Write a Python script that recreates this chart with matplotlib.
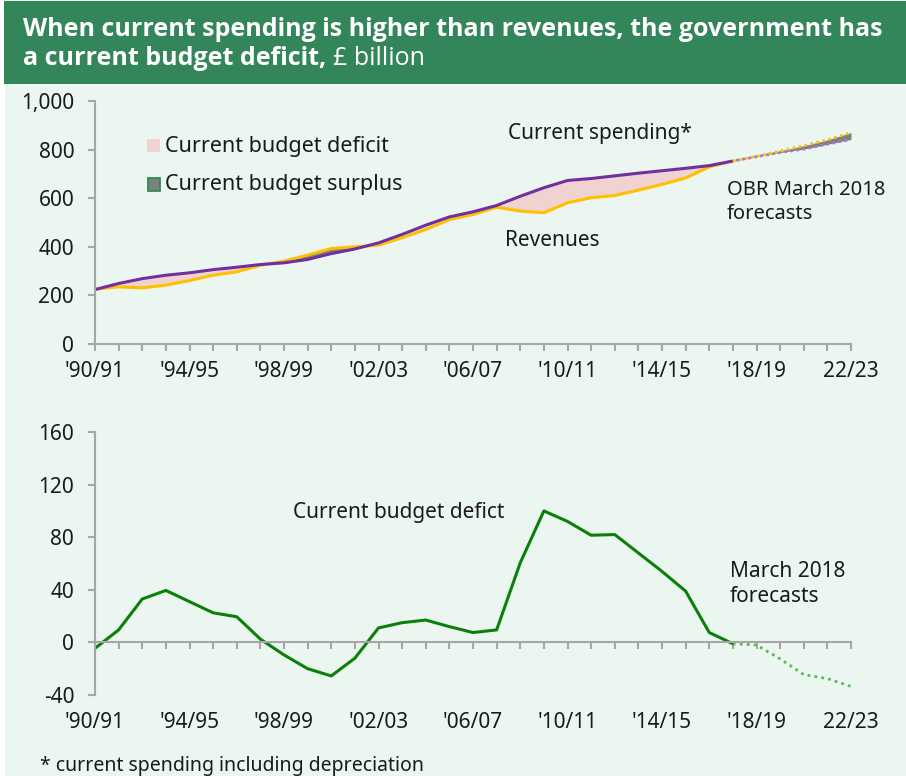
import matplotlib

matplotlib.use("Agg")
import matplotlib.pyplot as plt  # noqa: E402
import numpy as np  # noqa: E402
from matplotlib.patches import Rectangle  # noqa: E402

plt.rcParams["font.family"] = ["Noto Sans", "DejaVu Sans"]
plt.rcParams["axes.unicode_minus"] = False

# Financial years, plotted by their starting year (1990 = 1990/91)
years_hist = np.arange(1990, 2018)
years_fc = np.arange(2017, 2023)

# Current spending (incl. depreciation) and receipts, £ billion
spending_hist = [224, 249, 269, 283, 293, 306, 316, 327, 334, 348, 372, 391, 416, 451,
                 489, 523, 544, 570, 608, 643, 673, 681, 692, 703, 713, 723, 734, 753]
revenue_hist = [226, 235, 231, 242, 261, 283, 297, 324, 341, 366, 393, 400, 407, 437,
                471, 512, 533, 563, 547, 540, 581, 602, 611, 633, 657, 683, 729, 753]
spending_fc = [753, 771, 788, 802, 822, 842]
revenue_fc = [753, 772, 794, 816, 840, 870]

# Current budget deficit, £ billion
deficit_hist = [-4.5, 9.5, 33, 39.5, 31, 22.5, 19.5, 2.5, -9.5, -20, -25.5, -12, 11, 15,
                17, 12, 7.5, 9.5, 60.5, 100, 92, 81.5, 82, 68, 54, 39, 7.5, -1]
deficit_fc = [-1, -2, -12.5, -24.5, -27.5, -33.5]

label_years = np.arange(1990, 2023, 4)
year_labels = ["'90/91", "'94/95", "'98/99", "'02/03", "'06/07", "'10/11", "'14/15",
               "'18/19", "22/23"]

GREEN_BAR = "#33855a"
BG = "#ecf6f0"
AXIS = "#a6a6a6"
TEXT = "#1a1a1a"
PURPLE = "#7030a0"
YELLOW = "#ffc000"
PINK = "#f0d2d0"
GREY = "#7f7f7f"
LINE_GREEN = "#0a800a"
FC_GREEN = "#5cb85c"
TITLE_FONT = ["Open Sans", "DejaVu Sans"]

W, H = 906, 776
fig = plt.figure(figsize=(W / 100, H / 100), dpi=100, facecolor="white")


def fx(px):
    return px / W


def fy(py):
    return 1 - py / H


# panel background and title bar
fig.patches.append(Rectangle((fx(5), 0), 1, fy(84), transform=fig.transFigure,
                             facecolor=BG, edgecolor="none", zorder=-2))
fig.patches.append(Rectangle((fx(4), fy(84)), 1, fy(1) - fy(84), transform=fig.transFigure,
                             facecolor=GREEN_BAR, edgecolor="none", zorder=-1))

fig.text(fx(23), fy(36), "When current spending is higher than revenues, the government has",
         color="white", fontsize=18, fontweight="bold", family=TITLE_FONT, va="baseline")
t2 = fig.text(fx(23), fy(65), "a current budget deficit,", color="white", fontsize=18,
              fontweight="bold", family=TITLE_FONT, va="baseline")
fig.canvas.draw()
bb = t2.get_window_extent()
fig.text(bb.x1 / W + fx(7), fy(65), "£ billion", color="white", fontsize=18,
         family=TITLE_FONT, va="baseline")


def style_axes(ax):
    ax.set_facecolor("none")
    ax.set_xlim(1990, 2022)
    for s in ("top", "right"):
        ax.spines[s].set_visible(False)
    for s in ("left", "bottom"):
        ax.spines[s].set_color(AXIS)
        ax.spines[s].set_linewidth(1.5)
    ax.set_xticks(np.arange(1990, 2023))
    ax.tick_params(axis="both", colors=AXIS, width=1.5, length=5, labelcolor=TEXT,
                   labelsize=15)
    ax.tick_params(axis="y", pad=10)


# top panel: spending vs revenues
ax1 = fig.add_axes([fx(95), fy(344), fx(851) - fx(95), fy(101) - fy(344)])
style_axes(ax1)
ax1.set_ylim(0, 1000)
ax1.set_yticks(range(0, 1001, 200))
ax1.set_yticklabels([f"{v:,}" for v in range(0, 1001, 200)])
ax1.set_xticklabels([year_labels[list(label_years).index(y)] if y in label_years else ""
                     for y in range(1990, 2023)])
ax1.tick_params(axis="x", pad=7)

sp_h = np.array(spending_hist)
rv_h = np.array(revenue_hist)
ax1.fill_between(years_hist, sp_h, rv_h, where=sp_h >= rv_h, interpolate=True,
                 color=PINK, lw=0)
ax1.fill_between(years_hist, sp_h, rv_h, where=rv_h >= sp_h, interpolate=True,
                 color=GREY, lw=0)
ax1.fill_between(years_fc, spending_fc, revenue_fc, color=GREY, lw=0)
ax1.plot(years_hist, revenue_hist, color=YELLOW, lw=2.2, solid_capstyle="butt")
ax1.plot(years_hist, spending_hist, color=PURPLE, lw=2.2, solid_capstyle="butt")
ax1.plot(years_fc, revenue_fc, color=YELLOW, lw=2, ls=(0, (1, 1.2)))
ax1.plot(years_fc, spending_fc, color="#a07cd0", lw=2, ls=(1, (1, 1.2)))

# legend drawn as swatches in figure pixels
fig.patches.append(Rectangle((fx(147), fy(152)), fx(13), fy(139) - fy(152),
                             transform=fig.transFigure, facecolor=PINK, edgecolor="none"))
fig.patches.append(Rectangle((fx(147.5), fy(190.5)), fx(12), fy(178) - fy(190.5),
                             transform=fig.transFigure, facecolor=GREY,
                             edgecolor="#2e8b57", lw=1.3))
fig.text(fx(165), fy(152), "Current budget deficit", fontsize=15.5, color=TEXT, va="baseline")
fig.text(fx(165), fy(190), "Current budget surplus", fontsize=15.5, color=TEXT, va="baseline")
fig.text(fx(508), fy(139), "Current spending*", fontsize=15, color=TEXT, va="baseline")
fig.text(fx(505), fy(246), "Revenues", fontsize=15, color=TEXT, va="baseline")
fig.text(fx(727), fy(195), "OBR March 2018", fontsize=14.5, color=TEXT, va="baseline")
fig.text(fx(727), fy(219), "forecasts", fontsize=14.5, color=TEXT, va="baseline")

# bottom panel: current budget deficit
ax2 = fig.add_axes([fx(95), fy(695), fx(851) - fx(95), fy(432) - fy(695)])
style_axes(ax2)
ax2.set_ylim(-40, 160)
ax2.set_yticks(range(-40, 161, 40))
ax2.spines["bottom"].set_position(("data", 0))
ax2.tick_params(axis="x", labelbottom=False)
sec = ax2.secondary_xaxis("bottom")
sec.spines["bottom"].set_visible(False)
sec.set_xticks(label_years)
sec.set_xticklabels(year_labels)
sec.tick_params(length=0, labelsize=15, labelcolor=TEXT, pad=12)

ax2.plot(years_hist, deficit_hist, color=LINE_GREEN, lw=2.2)
ax2.plot(years_fc, deficit_fc, color=FC_GREEN, lw=2, ls=(0, (1, 1.5)))

fig.text(fx(293), fy(518), "Current budget defict", fontsize=15, color=TEXT, va="baseline")
fig.text(fx(730), fy(577), "March 2018", fontsize=15, color=TEXT, va="baseline")
fig.text(fx(730), fy(602), "forecasts", fontsize=15, color=TEXT, va="baseline")
fig.text(fx(40), fy(771), "* current spending including depreciation", fontsize=14,
         color=TEXT, va="baseline")

fig.savefig("out.png", dpi=100, facecolor="white")
